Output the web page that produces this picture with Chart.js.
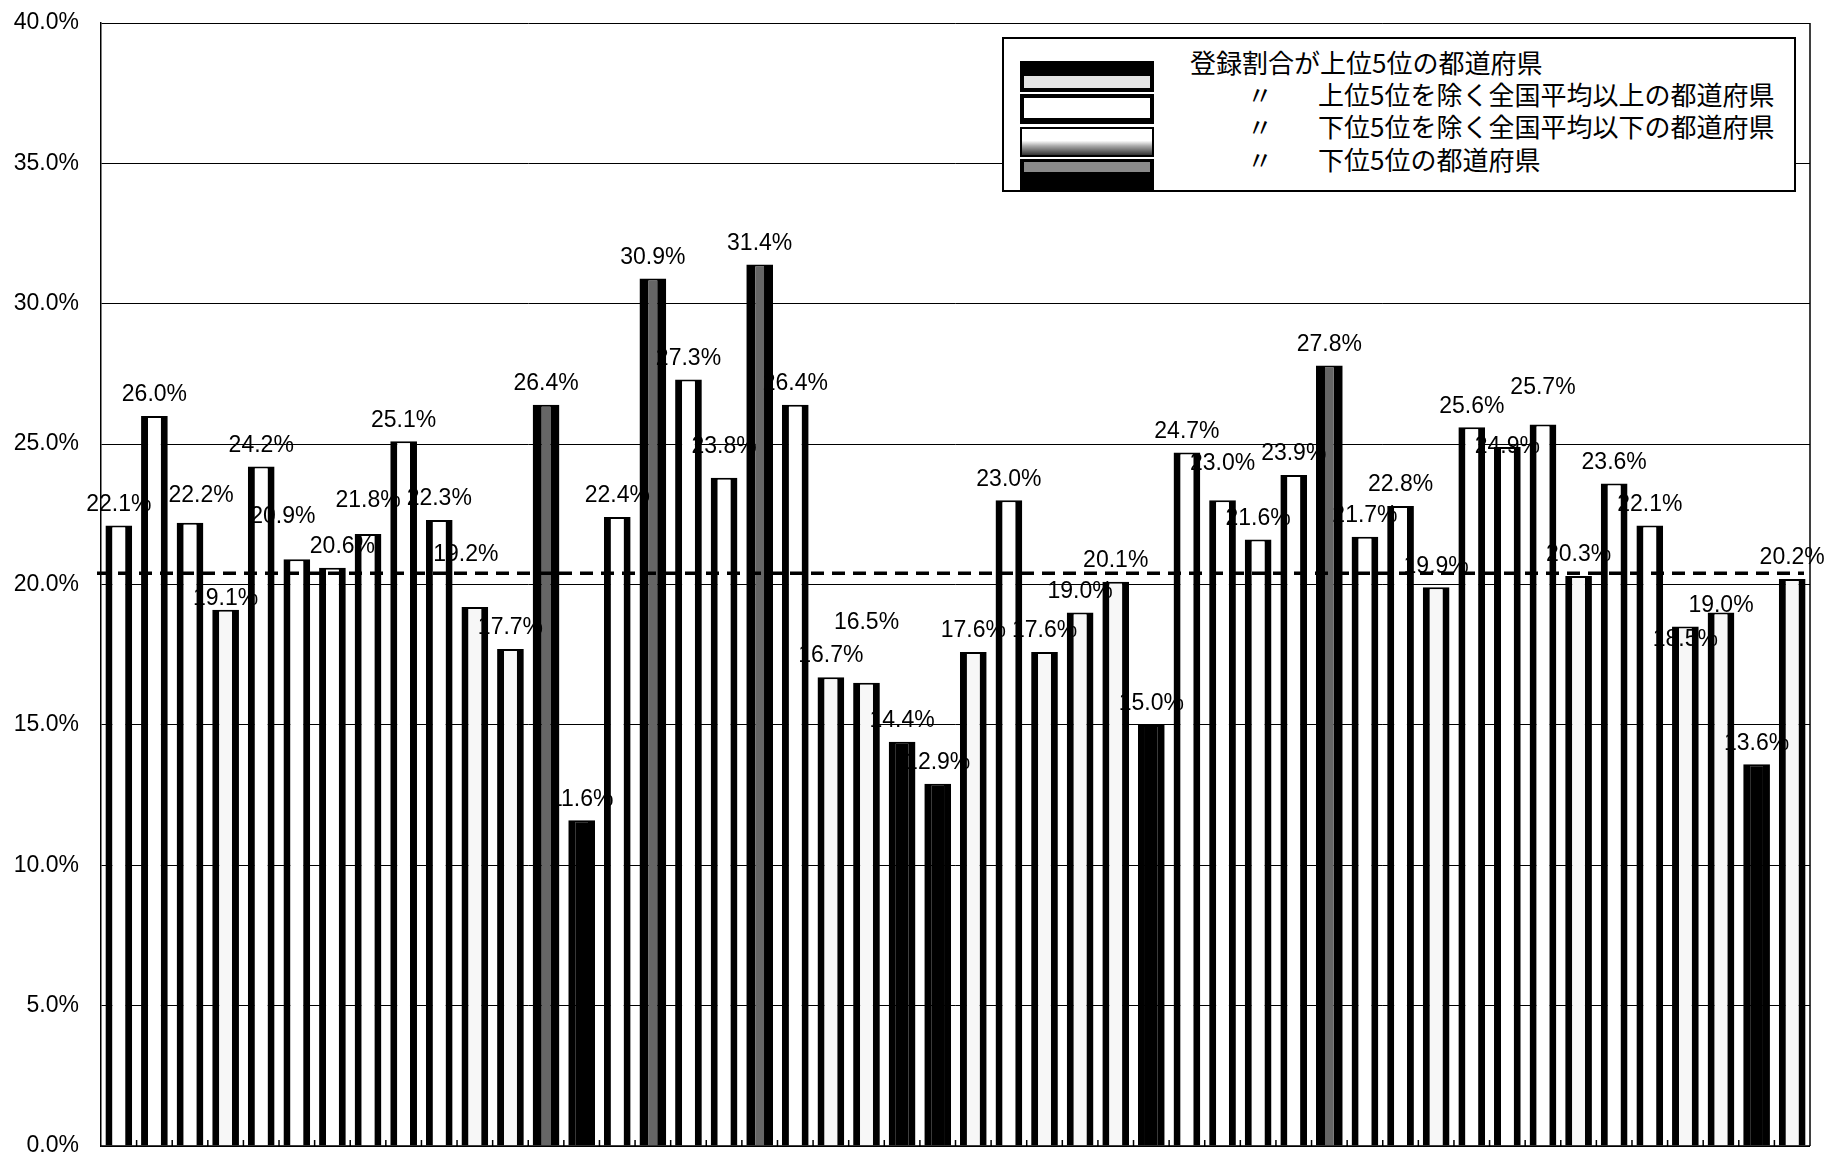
<!DOCTYPE html>
<html lang="ja">
<head>
<meta charset="utf-8">
<title>登録割合</title>
<script src="https://cdn.jsdelivr.net/npm/chart.js@4.4.1/dist/chart.umd.min.js"></script>
<style>
  body { margin: 0; background: #fff; }
  #wrap { position: relative; width: 1827px; height: 1159px; }
  #legend {
    position: absolute; left: 1002px; top: 37px; width: 790px; height: 151px;
    border: 2px solid #000; background: #fff;
    font-family: "Noto Sans CJK JP", sans-serif; font-size: 26px; color: #000;
  }
  #legend .sw { position: absolute; left: 16px; width: 134px; background: #000; }
  #legend .sw div { position: absolute; }
  #legend .tx { position: absolute; white-space: nowrap; line-height: 30px; }
</style>
</head>
<body>
<div id="wrap">
  <canvas id="myChart"></canvas>
  <div id="legend">
    <div class="sw" style="top:22px;height:31px"><div style="left:4px;right:4px;top:15px;height:12px;background:#e4e4e4"></div></div>
    <div class="sw" style="top:55px;height:30px"><div style="left:4px;right:4px;top:4px;height:20px;background:#fff"></div></div>
    <div class="sw" style="top:88px;height:30px"><div style="left:2px;right:2px;top:2px;bottom:2px;background:linear-gradient(#fff 0 45%,#aaa 65%,#333 100%)"></div></div>
    <div class="sw" style="top:120px;height:31px"><div style="left:4px;right:4px;top:3px;height:10px;background:#8a8a8a"></div></div>
    <span class="tx" style="left:186px;top:8px">登録割合が上位5位の都道府県</span>
    <span class="tx" style="left:243px;top:40px">〃</span>
    <span class="tx" style="left:314px;top:40px">上位5位を除く全国平均以上の都道府県</span>
    <span class="tx" style="left:243px;top:72px">〃</span>
    <span class="tx" style="left:314px;top:72px">下位5位を除く全国平均以下の都道府県</span>
    <span class="tx" style="left:243px;top:105px">〃</span>
    <span class="tx" style="left:314px;top:105px">下位5位の都道府県</span>
  </div>
</div>
<script>
const ctx = document.getElementById('myChart');

/*  dados   */
const categorias = ['1','2','3','4','5','6','7','8','9','10','11','12','13','14','15','16',
  '17','18','19','20','21','22','23','24','25','26','27','28','29','30','31','32',
  '33','34','35','36','37','38','39','40','41','42','43','44','45','46','47','48'];
const valores = [22.1, 26.0, 22.2, 19.1, 24.2, 20.9, 20.6, 21.8, 25.1, 22.3,
  19.2, 17.7, 26.4, 11.6, 22.4, 30.9, 27.3, 23.8, 31.4, 26.4,
  16.7, 16.5, 14.4, 12.9, 17.6, 23.0, 17.6, 19.0, 20.1, 15.0,
  24.7, 23.0, 21.6, 23.9, 27.8, 21.7, 22.8, 19.9, 25.6, 24.9,
  25.7, 20.3, 23.6, 22.1, 18.5, 19.0, 13.6, 20.2];
const mediaNacional = 20.4;
const yTicks = [0, 5, 10, 15, 20, 25, 30, 35, 40];
const top5 = [13, 16, 19, 35];          // barras escuras (nº da barra)
const bottom5 = [14, 23, 24, 30, 47];   // barras pretas

/*  ajuste manual dos rótulos: [dx, dy para cima] em px   */
const ajusteRotulo = {
  3: [11, 6], 4: [0, -10], 6: [-14, 22], 7: [10, 0], 8: [0, 12], 11: [-9, 31],
  18: [0, 10], 22: [0, 39], 32: [0, 16], 40: [0, -21], 41: [0, 16], 45: [0, -34], 46: [0, -14]
};

function corBarra(i){
  const n = i + 1;
  if (bottom5.includes(n)) return '#000';
  if (top5.includes(n)) return '#666';
  return valores[i] >= mediaNacional ? '#fff' : '#f7f7f7';
}

/*  rótulos, linha da média e moldura por cima das barras   */
const rotulos = {
  id: 'rotulos',
  afterDatasetsDraw(chart){
    const c = chart.ctx;
    const meta = chart.getDatasetMeta(0);
    const a = chart.chartArea;
    c.save();
    c.font = '23px "Liberation Sans", Arial, sans-serif';
    c.fillStyle = '#000';
    c.textAlign = 'center';
    c.textBaseline = 'middle';
    meta.data.forEach((bar, i) => {
      const aj = ajusteRotulo[i + 1] || [0, 0];
      c.fillText(valores[i].toFixed(1) + '%', bar.x + aj[0], bar.y - 21 - aj[1]);
    });

    // tracinhos entre as categorias, no eixo de baixo
    c.strokeStyle = '#000';
    c.lineWidth = 1.5;
    c.beginPath();
    for (let i = 0; i < meta.data.length - 1; i++){
      const xm = (meta.data[i].x + meta.data[i + 1].x) / 2;
      c.moveTo(xm, a.bottom);
      c.lineTo(xm, a.bottom - 6);
    }
    c.stroke();

    const y = chart.scales.y.getPixelForValue(mediaNacional);
    c.lineWidth = 3.5;
    c.setLineDash([13, 8]);
    c.beginPath();
    c.moveTo(a.left - 4, y);
    c.lineTo(a.right - 6, y);
    c.stroke();
    c.setLineDash([]);
    c.lineWidth = 1.5;
    c.beginPath();
    c.moveTo(a.right, a.top);
    c.lineTo(a.right, a.bottom);
    c.moveTo(a.left, a.bottom);
    c.lineTo(a.right, a.bottom);
    c.stroke();
    c.restore();
  }
};

new Chart(ctx, {
  type: 'bar',
  data: {
    labels: categorias,
    datasets: [{
      data: valores,
      backgroundColor: valores.map((v, i) => corBarra(i)),
      borderColor: '#000',
      borderWidth: valores.map((v, i) => top5.includes(i + 1)
        ? {left: 9, right: 9, top: 2, bottom: 0}
        : {left: 7, right: 7, top: 2, bottom: 0}),
      barPercentage: 0.75,
      categoryPercentage: 1.0
    }]
  },
  options: {
    responsive: true,
    maintainAspectRatio: false,
    animation: false,
    layout: { padding: { top: 23, bottom: 13, right: 17, left: 0 } },
    plugins: { legend: { display: false }, tooltip: { enabled: false } },
    scales: {
      x: { display: false },
      y: {
        min: 0,
        max: 40,
        afterBuildTicks: (scale) => { scale.ticks = yTicks.map(v => ({ value: v })); },
        afterFit: (scale) => { scale.width = 101; scale.paddingTop = 0; scale.paddingBottom = 0; },
        ticks: {
          padding: 22,
          color: '#000',
          font: { family: '"Liberation Sans", Arial, sans-serif', size: 23 },
          callback: (v) => v.toFixed(1) + '%'
        },
        grid: { color: '#000', lineWidth: 1, drawTicks: false },
        border: { color: '#000', width: 1.5 }
      }
    }
  },
  plugins: [rotulos]
});
</script>
</body>
</html>
